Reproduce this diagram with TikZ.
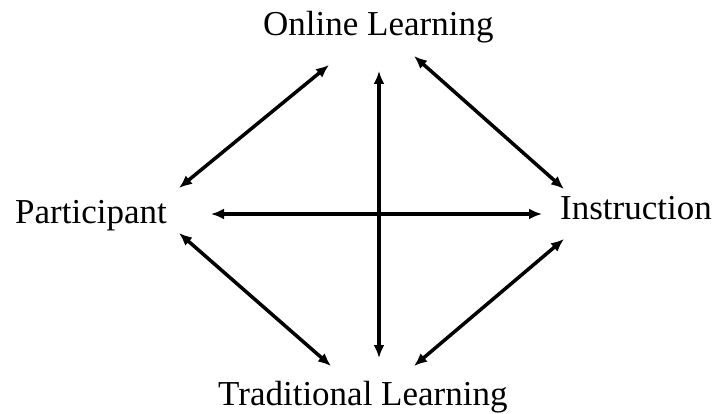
\documentclass[tikz,border=0pt]{standalone}
\usepackage{fontspec}
\setmainfont{Liberation Serif}
\usetikzlibrary{arrows.meta}
\begin{document}
\begin{tikzpicture}[x=1pt,y=-1pt,
  lbl/.style={inner sep=0pt,anchor=base west,font=\fontsize{35}{40}\selectfont},
  arr/.style={{Latex[length=13pt,width=11pt]}-{Latex[length=13pt,width=11pt]},line width=3.5pt}]
\useasboundingbox (0,0) rectangle (712,414);
\node[lbl] (ol) at (263,36) {Online Learning};
\node[lbl] (pa) at (15,223) {Participant};
\node[lbl] (in) at (560,220) {Instruction};
\node[lbl] (tl) at (218,405) {Traditional Learning};
\coordinate (olA) at (329,65);
\coordinate (paA) at (179,188);
\coordinate (olB) at (414,56);
\coordinate (inA) at (564,189);
\coordinate (olC) at (379,71);
\coordinate (tlC) at (379,358);
\coordinate (paC) at (211,214);
\coordinate (inC) at (542,214);
\coordinate (paB) at (179,233);
\coordinate (tlA) at (331,366);
\coordinate (inB) at (564,239);
\coordinate (tlB) at (414,366);
\draw[arr] (paA) -- (olA);
\draw[arr] (olB) -- (inA);
\draw[arr] (olC) -- (tlC);
\draw[arr] (paC) -- (inC);
\draw[arr] (paB) -- (tlA);
\draw[arr] (inB) -- (tlB);
\end{tikzpicture}
\end{document}
